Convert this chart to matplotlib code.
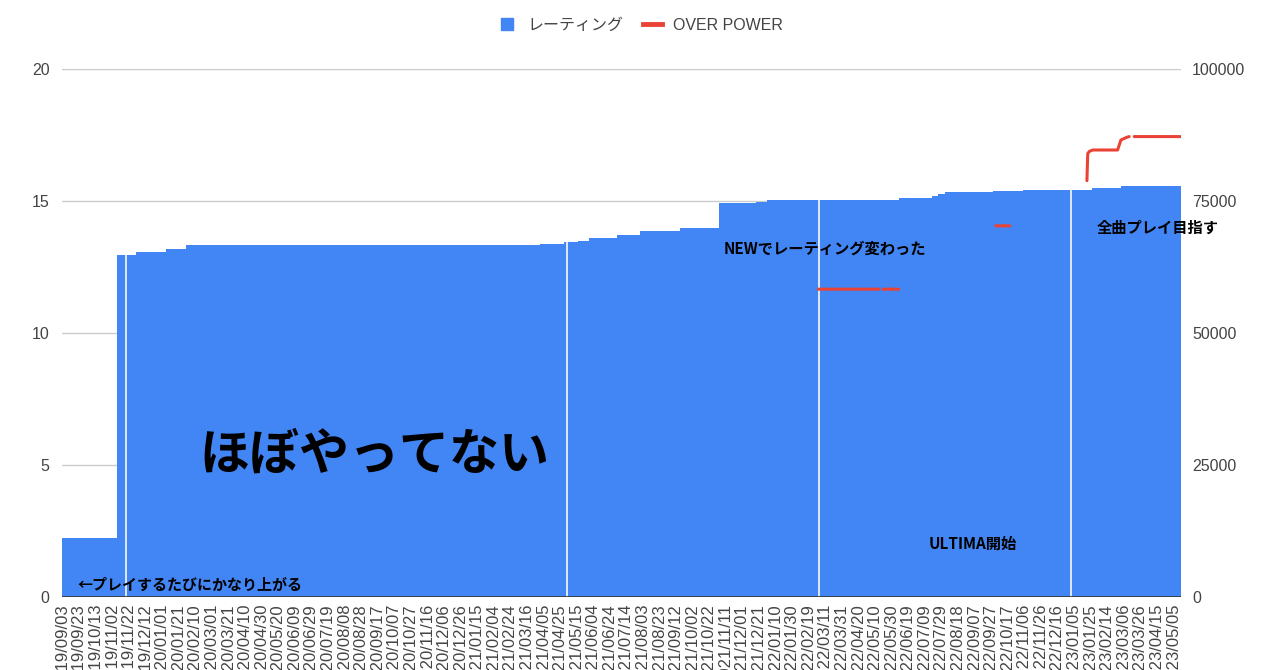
import numpy as np
import pandas as pd
import matplotlib
matplotlib.use("Agg")
import matplotlib.pyplot as plt
from matplotlib.lines import Line2D

plt.rcParams["font.family"] = ["Liberation Sans", "Noto Sans CJK JP"]

START = "2019/09/03"
END = "2023/05/14"

# rating (left axis): value from each date until the next change
rating_dates = ["2019/09/03", "2019/11/08", "2019/12/01", "2020/01/06",
                "2020/01/31", "2021/04/02", "2021/05/01", "2021/05/17",
                "2021/05/31", "2021/07/03", "2021/07/31", "2021/09/17",
                "2021/11/04", "2021/12/18", "2021/12/31", "2022/06/09",
                "2022/07/19", "2022/07/26", "2022/08/03", "2022/09/30",
                "2022/11/05", "2023/01/28", "2023/03/04"]
rating_values = [2.22, 12.95, 13.05, 13.17,
                 13.32, 13.37, 13.43, 13.50,
                 13.58, 13.71, 13.88, 13.97,
                 14.91, 14.97, 15.04, 15.10,
                 15.20, 15.27, 15.34, 15.38,
                 15.42, 15.50, 15.57]

# days with no record (white breaks in the area)
gap_dates = ["2019/11/19", "2021/05/04", "2022/03/04", "2023/01/02"]

# OVER POWER (right axis), None = no record
op_dates = ["2022/03/03", "2022/05/15", "2022/05/18", "2022/05/20", "2022/06/08",
            "2022/08/01",
            "2022/10/03", "2022/10/20", "2022/12/01",
            "2023/01/21", "2023/01/22", "2023/01/24", "2023/01/28",
            "2023/02/27", "2023/03/03", "2023/03/10", "2023/03/13",
            "2023/03/16", "2023/03/19", "2023/05/14"]
op_values = [58300, 58300, None, 58300, 58300,
             None,
             70300, 70300, None,
             78850, 84000, 84400, 84660,
             84660, 86550, 87060, 87200,
             None, 87200, 87200]

notes = ["←プレイするたびにかなり上がる", "ほぼやってない", "NEWでレーティング変わった",
         "ULTIMA開始", "全曲プレイ目指す"]

BLUE = "#4285f4"
RED = "#ea4335"


def day(s):
    return (pd.to_datetime(s, format="%Y/%m/%d")
            - pd.to_datetime(START, format="%Y/%m/%d")).days


last = day(END)
rx = np.array([day(d) for d in rating_dates] + [last + 1]) - 0.5
ry = np.array(rating_values + [rating_values[-1]])
ox = np.array([day(d) for d in op_dates])
oy = np.array([np.nan if v is None else v for v in op_values], dtype=float)

fig = plt.figure(figsize=(12.8, 6.7), dpi=100)
ax = fig.add_axes([62 / 1280, 1 - 597 / 670, 1119 / 1280, 528 / 670])

ax.fill_between(rx, ry, step="post", color=BLUE, lw=0, zorder=1.5)
gx = np.array([day(d) for d in gap_dates])
gh = ry[np.searchsorted(rx, gx, side="right") - 1]
ax.vlines(gx, 0, gh, color="#dfe8fb", lw=1.4, zorder=1.8)
ax.axhline(0, color="#333333", lw=1.2, zorder=3)

ax.set_xlim(-0.5, last + 0.5)
ax.set_ylim(0, 20)
ax.set_yticks([0, 5, 10, 15, 20])
ax.yaxis.grid(True, color="#cccccc", lw=1)
ax.set_axisbelow(True)
for s in ax.spines.values():
    s.set_visible(False)

ticks = pd.date_range(pd.to_datetime(START, format="%Y/%m/%d"),
                      pd.to_datetime(END, format="%Y/%m/%d"), freq="20D")
ax.set_xticks([day(t.strftime("%Y/%m/%d")) for t in ticks])
ax.set_xticklabels([t.strftime("%Y/%m/%d") for t in ticks], rotation=90)
ax.tick_params(axis="x", length=0, pad=5, labelsize=12, labelcolor="#444444")
ax.tick_params(axis="y", length=0, pad=9, labelsize=11.5, labelcolor="#444444")

ax2 = ax.twinx()
ax2.plot(ox, oy, color=RED, lw=2.2, solid_capstyle="round", zorder=4)
ax2.set_ylim(0, 100000)
ax2.set_yticks([0, 25000, 50000, 75000, 100000])
ax2.set_yticklabels(["0", "25000", "50000", "75000", "100000"])
ax2.tick_params(axis="y", length=0, pad=8, labelsize=11.5, labelcolor="#444444")
for s in ax2.spines.values():
    s.set_visible(False)

jp = ["Noto Sans CJK JP", "DejaVu Sans"]
ax.text(day("2019/09/21"), 0.45, notes[0], family=jp, fontsize=10.8,
        fontweight="bold", va="center", ha="left", zorder=5)
ax.text(day("2020/09/13"), 5.38, notes[1], family=jp, fontsize=36,
        fontweight="bold", va="center", ha="center", zorder=5)
ax.text(day("2021/11/09"), 13.21, notes[2], family=jp, fontsize=11,
        fontweight="bold", va="center", ha="left", zorder=5)
ax.text(day("2022/07/14"), 2.0, notes[3], family=jp, fontsize=11,
        fontweight="bold", va="center", ha="left", zorder=5)
ax2.text(day("2023/02/02"), 69900, notes[4], family=jp, fontsize=11,
         fontweight="bold", va="center", ha="left", zorder=5)

handles = [Line2D([], [], marker="s", color=BLUE, ls="none", markersize=8),
           Line2D([], [], color=RED, lw=3.5)]
fig.legend(handles, ["レーティング", "OVER POWER"], loc="center",
           bbox_to_anchor=(0.5, 1 - 25 / 670), ncol=2, frameon=False,
           fontsize=11.5, labelcolor="#444444", handlelength=1.2,
           columnspacing=1.2, handletextpad=0.7)

fig.savefig("out.png", dpi=100)
